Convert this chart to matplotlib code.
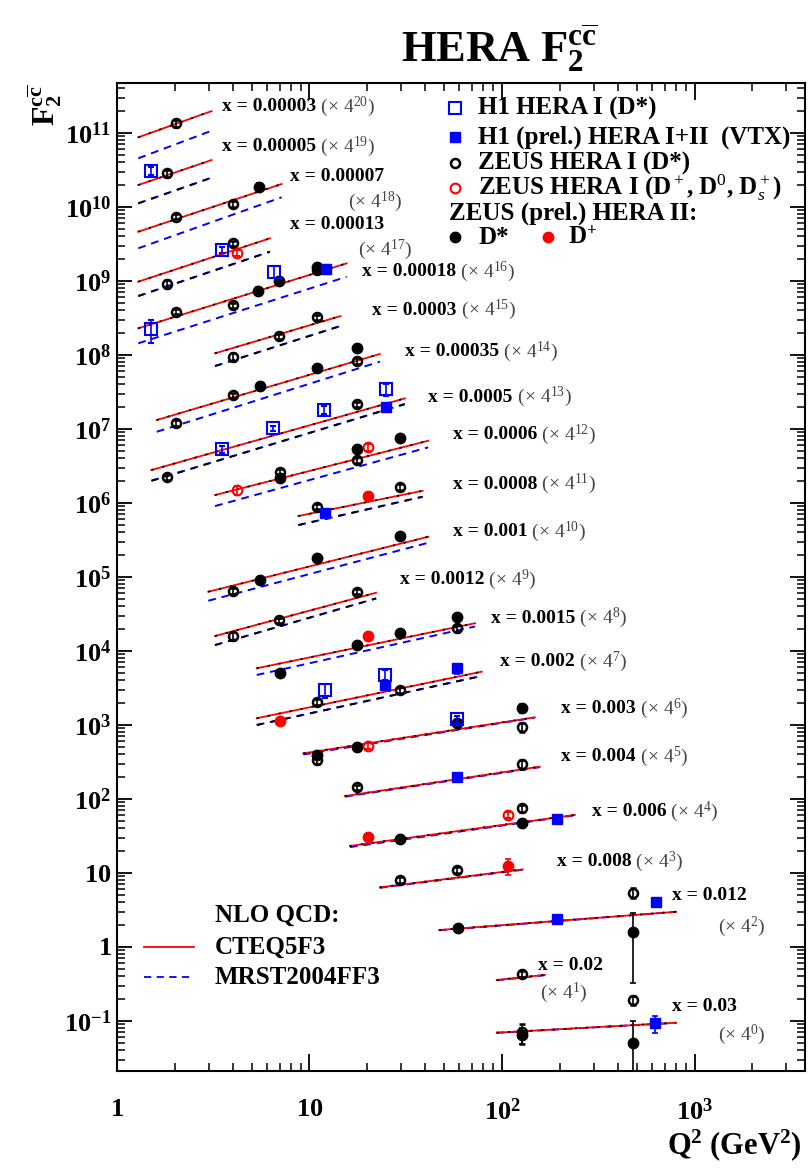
import numpy as np
import matplotlib
matplotlib.use('Agg')
import matplotlib.pyplot as plt
from matplotlib.ticker import LogLocator, FixedLocator, FuncFormatter, NullFormatter

plt.rcParams['font.family'] = 'Liberation Serif'
plt.rcParams['mathtext.fontset'] = 'custom'
plt.rcParams['mathtext.rm'] = 'Liberation Serif'
plt.rcParams['mathtext.it'] = 'Liberation Serif:italic'
plt.rcParams['mathtext.bf'] = 'Liberation Serif:bold'

# x bins, printed labels and the 4^n offsets used to separate them
x_bins = [0.00003, 0.00005, 0.00007, 0.00013, 0.00018, 0.0003, 0.00035, 0.0005, 0.0006, 0.0008,
          0.001, 0.0012, 0.0015, 0.002, 0.003, 0.004, 0.006, 0.008, 0.012, 0.02, 0.03]
x_text = ['0.00003', '0.00005', '0.00007', '0.00013', '0.00018', '0.0003', '0.00035', '0.0005',
          '0.0006', '0.0008', '0.001', '0.0012', '0.0015', '0.002', '0.003', '0.004', '0.006',
          '0.008', '0.012', '0.02', '0.03']
scale_pow = [20, 19, 18, 17, 16, 15, 14, 13, 12, 11, 10, 9, 8, 7, 6, 5, 4, 3, 2, 1, 0]

# NLO QCD predictions (end points of each curve, unscaled F2)
q2_lo = [1.29, 1.29, 1.29, 1.29, 1.29, 3.23, 1.61, 1.51, 3.23, 8.75, 2.98, 3.23, 5.32, 5.32,
         9.29, 15.3, 16.2, 23.2, 47.2, 93.9, 93.9]
q2_hi = [3.10, 3.10, 7.17, 6.23, 15.6, 14.5, 23.2, 31.3, 41.4, 38.7, 41.4, 22.2, 72.4, 78.5,
         148, 157, 239, 128, 802, 167, 802]
cteq_lo = [0.0796, 0.0721, 0.0675, 0.0570, 0.0535, 0.0982, 0.0493, 0.0416, 0.0764, 0.159, 0.0603,
           0.0608, 0.0891, 0.0753, 0.101, 0.107, 0.0906, 0.100, 0.106, 0.0895, 0.0695]
cteq_hi = [0.180, 0.157, 0.298, 0.220, 0.404, 0.313, 0.385, 0.387, 0.414, 0.349, 0.334, 0.234,
           0.362, 0.321, 0.310, 0.267, 0.238, 0.175, 0.187, 0.105, 0.0948]
mrst_lo = [0.0414, 0.0408, 0.0403, 0.0365, 0.0335, 0.0661, 0.0342, 0.0298, 0.0542, 0.120, 0.0456,
           0.0459, 0.0724, 0.0611, 0.0977, 0.105, 0.0875, 0.0986, 0.105, 0.0887, 0.0692]
mrst_hi = [0.0977, 0.0906, 0.197, 0.145, 0.266, 0.230, 0.303, 0.324, 0.337, 0.290, 0.277, 0.196,
           0.327, 0.281, 0.307, 0.263, 0.2355, 0.173, 0.187, 0.104, 0.0944]
low_mix = [False, True, False, True, False, True, False, True, False, True, False, True, False,
           True, False, False, False, False, False, False, False]

# H1 HERA I (D*)
h1_x = [0.00005, 0.00013, 0.00018, 0.00018, 0.0005, 0.0005, 0.0005, 0.0005, 0.002, 0.002, 0.003]
h1_q2 = [1.51, 3.50, 1.51, 6.54, 3.50, 6.49, 11.9, 24.9, 12.0, 24.6, 58.6]
h1_f2 = [0.113, 0.153, 0.0518, 0.311, 0.0793, 0.152, 0.269, 0.512, 0.182, 0.290, 0.292]
h1_err = [0.12, 0.10, 0.35, 0.18, 0.10, 0.08, 0.12, 0.18, 0.22, 0.15, 0.12]

# H1 (prel.) HERA I+II (VTX)
vtx_x = [0.00018, 0.0005, 0.0008, 0.002, 0.002, 0.004, 0.006, 0.012, 0.012, 0.03]
vtx_q2 = [12.2, 24.9, 12.0, 24.6, 58.6, 58.6, 194, 192, 631, 624]
vtx_f2 = [0.335, 0.298, 0.173, 0.212, 0.356, 0.192, 0.208, 0.148, 0.256, 0.0931]
vtx_err = [0.06, 0.06, 0.06, 0.06, 0.15, 0.06, 0.06, 0.06, 0.08, 0.25]

# ZEUS HERA I (D*)
z1_x = [0.00003, 0.00005, 0.00007, 0.00007, 0.00013, 0.00013, 0.00018, 0.00018, 0.00018, 0.0003,
        0.0003, 0.0003, 0.00035, 0.00035, 0.00035, 0.0005, 0.0005, 0.0006, 0.0006, 0.0008,
        0.0008, 0.001, 0.0012, 0.0012, 0.0012, 0.0015, 0.002, 0.002, 0.003, 0.003,
        0.004, 0.004, 0.006, 0.008, 0.008, 0.012, 0.02, 0.03, 0.03]
z1_q2 = [2.02, 1.81, 2.02, 4.02, 1.81, 4.0, 2.02, 4.0, 10.9, 4.0,
         6.97, 10.9, 2.02, 4.02, 17.6, 1.81, 17.7, 7.03, 17.6, 10.9,
         29.5, 4.02, 4.0, 6.97, 17.7, 58.6, 10.9, 29.5, 10.9, 126.6,
         17.7, 126.6, 126.6, 29.5, 58.6, 481, 126.6, 126.6, 481]
z1_f2 = [0.123, 0.104, 0.108, 0.160, 0.0530, 0.188, 0.0895, 0.110, 0.329, 0.0883,
         0.168, 0.301, 0.0453, 0.107, 0.310, 0.0338, 0.321, 0.158, 0.227, 0.212,
         0.395, 0.0622, 0.0608, 0.100, 0.241, 0.310, 0.126, 0.182, 0.0822, 0.228,
         0.141, 0.290, 0.292, 0.126, 0.172, 0.339, 0.108, 0.0708, 0.192]
z1_err = [0.10, 0.10, 0.08, 0.10, 0.12, 0.08, 0.08, 0.08, 0.08, 0.12,
          0.08, 0.08, 0.10, 0.08, 0.10, 0.10, 0.08, 0.08, 0.10, 0.08,
          0.10, 0.10, 0.12, 0.08, 0.08, 0.10, 0.10, 0.10, 0.12, 0.15,
          0.08, 0.15, 0.10, 0.08, 0.08, 0.15, 0.08, 0.30, 0.15]

# ZEUS HERA I (D+, D0, Ds+)
zd_x = [0.00013, 0.0006, 0.0006, 0.003, 0.006]
zd_q2 = [4.19, 4.19, 20.2, 20.2, 108]
zd_f2 = [0.140, 0.0893, 0.337, 0.127, 0.238]
zd_err = [0.10, 0.15, 0.10, 0.10, 0.10]

# ZEUS (prel.) HERA II, D*
z2_x = [0.00007, 0.00018, 0.00018, 0.00018, 0.00035, 0.00035, 0.00035, 0.0006, 0.0006, 0.0006,
        0.001, 0.001, 0.001, 0.0015, 0.0015, 0.0015, 0.0015, 0.003, 0.003, 0.003,
        0.003, 0.006, 0.006, 0.012, 0.012, 0.03, 0.03]
z2_q2 = [5.49, 5.42, 6.97, 10.9, 5.53, 10.9, 17.6, 7.03, 17.6, 29.5,
         5.53, 10.9, 29.5, 7.03, 17.7, 29.5, 58.6, 10.9, 17.7, 58.6,
         126.6, 29.5, 126.6, 59.3, 481, 126.6, 481]
z2_f2 = [0.274, 0.172, 0.235, 0.363, 0.142, 0.252, 0.459, 0.129, 0.317, 0.446,
         0.0867, 0.171, 0.341, 0.0762, 0.184, 0.270, 0.436, 0.0962, 0.124, 0.262,
         0.411, 0.111, 0.187, 0.112, 0.101, 0.0647, 0.0509]
z2_err = [0.12, 0.12, 0.12, 0.10, 0.10, 0.10, 0.12, 0.10, 0.08, 0.08,
          0.10, 0.08, 0.10, 0.10, 0.08, 0.08, 0.10, 0.08, 0.08, 0.08,
          0.15, 0.10, 0.10, 0.10, 0.80, 0.25, 0.99]

# ZEUS (prel.) HERA II, D+
zp_x = [0.0008, 0.0015, 0.002, 0.006, 0.008]
zp_q2 = [20.2, 20.2, 7.03, 20.2, 108]
zp_f2 = [0.296, 0.244, 0.0698, 0.119, 0.195]
zp_err = [0.06, 0.06, 0.06, 0.06, 0.25]

# axis decades shown with labels
x_major = [1, 10, 100, 1000]
y_major = [10.0 ** k for k in range(-1, 12)]

# label placement (axes fraction), second line for the wrapped ones
lab_pos = [(0.152, 0.976), (0.152, 0.9355), (0.2515, 0.905), (0.2515, 0.857), (0.356, 0.809),
           (0.371, 0.770), (0.419, 0.728), (0.4525, 0.682), (0.488, 0.644), (0.488, 0.594),
           (0.488, 0.546), (0.411, 0.497), (0.5436, 0.4585), (0.557, 0.414), (0.646, 0.367),
           (0.646, 0.318), (0.690, 0.2625), (0.639, 0.212), (0.806, 0.178), (0.612, 0.107),
           (0.806, 0.065)]
lab_pos2 = {2: (0.336, 0.880), 3: (0.350, 0.831), 18: (0.874, 0.146), 19: (0.615, 0.079),
            20: (0.874, 0.0364)}

fig = plt.figure(figsize=(8.09, 11.71), dpi=100)
ax = fig.add_axes([0.1446, 0.0854, 0.8505, 0.8437])
ax.set_xscale('log')
ax.set_yscale('log')
ax.set_xlim(1, 3750)
ax.set_ylim(0.0211, 4.74e11)


def scale_of(xv):
    return 4.0 ** scale_pow[x_bins.index(xv)]


# theory curves
for i in range(len(x_bins)):
    s = 4.0 ** scale_pow[i]
    qq = [q2_lo[i], q2_hi[i]]
    ax.plot(qq, [mrst_lo[i] * s, mrst_hi[i] * s], color='#0000ff', lw=1.4,
            dashes=(4, 3), zorder=2)
    if low_mix[i]:
        ax.plot(qq, [mrst_lo[i] * s, mrst_hi[i] * s], color='k', lw=1.4,
                dashes=(3, 4), zorder=2)
    ax.plot(qq, [cteq_lo[i] * s, cteq_hi[i] * s], color='#ff0000', lw=1.3, zorder=2)
    ax.plot(qq, [cteq_lo[i] * s, cteq_hi[i] * s], color='k', lw=1.3,
            dashes=(1.2, 5), zorder=2)


def draw_set(xs, q2, f2, err, **kw):
    sc = np.array([scale_of(v) for v in xs])
    y = np.array(f2) * sc
    e = np.array(err)
    lo = y * np.minimum(e, 0.999)
    hi = y * e
    ax.errorbar(q2, y, yerr=[lo, hi], ls='none', capsize=2.5, elinewidth=1.2,
                capthick=1.2, **kw)


draw_set(z2_x, z2_q2, z2_f2, z2_err, marker='o', ms=7.5, color='k', mfc='k', zorder=4)
draw_set(zp_x, zp_q2, zp_f2, zp_err, marker='o', ms=7.5, color='#ff0000', mfc='#ff0000', zorder=4)
draw_set(z1_x, z1_q2, z1_f2, z1_err, marker='o', ms=6.5, color='k', mfc='none', mew=1.8, zorder=5)
draw_set(zd_x, zd_q2, zd_f2, zd_err, marker='o', ms=7, color='#ff0000', mfc='none', mew=1.5, zorder=5)
draw_set(h1_x, h1_q2, h1_f2, h1_err, marker='s', ms=8, color='#0000ff', mfc='none', mew=1.5, zorder=5)
draw_set(vtx_x, vtx_q2, vtx_f2, vtx_err, marker='s', ms=7, color='#0000ff', mfc='#0000ff', zorder=5)

# bin labels
for i in range(len(x_bins)):
    fx, fy = lab_pos[i]
    t = ax.text(fx, fy, 'x = ' + x_text[i], transform=ax.transAxes, fontsize=14,
                fontweight='bold', va='center', ha='left')
    s_txt = r'(× $4^{%d}$)' % scale_pow[i]
    if i in lab_pos2:
        fx2, fy2 = lab_pos2[i]
        ax.text(fx2, fy2, s_txt, transform=ax.transAxes, fontsize=14, color='#444444',
                va='center', ha='left')
    else:
        ax.annotate(' ' + s_txt, xy=(1, 0.5), xycoords=t, fontsize=14, color='#444444',
                    va='center', ha='left')


def log_label(v, pos):
    k = int(round(np.log10(v)))
    if k == 0:
        return r'$\mathbf{1}$'
    if k == 1:
        return r'$\mathbf{10}$'
    return r'$\mathbf{10^{%d}}$' % k


ax.xaxis.set_major_locator(FixedLocator(x_major))
ax.yaxis.set_major_locator(FixedLocator(y_major))
for axis in (ax.xaxis, ax.yaxis):
    axis.set_minor_locator(LogLocator(base=10, subs=np.arange(2, 10), numticks=40))
    axis.set_major_formatter(FuncFormatter(log_label))
    axis.set_minor_formatter(NullFormatter())

ax.tick_params(axis='y', which='major', direction='in', length=11, width=1.3,
               right=True, labelsize=19, pad=4)
ax.tick_params(axis='y', which='minor', direction='in', length=5.5, width=1.1, right=True)
ax.tick_params(axis='x', which='major', direction='in', length=12, width=1.3,
               top=True, labelsize=19, pad=20)
ax.tick_params(axis='x', which='minor', direction='in', length=6, width=1.1, top=True)
for sp in ax.spines.values():
    sp.set_linewidth(1.5)

# top-right legend
mx, tx = 0.491, 0.525
rows = [0.9747, 0.9453, 0.919, 0.8937, 0.8684, 0.8441]
ax.plot(mx, rows[0], 's', ms=8, mfc='none', mec='#0000ff', mew=1.5, transform=ax.transAxes, clip_on=False)
ax.plot(mx, rows[1], 's', ms=7, color='#0000ff', transform=ax.transAxes, clip_on=False)
ax.plot(mx, rows[2], 'o', ms=6.5, mfc='none', mec='k', mew=1.8, transform=ax.transAxes, clip_on=False)
ax.plot(mx, rows[3], 'o', ms=7, mfc='none', mec='#ff0000', mew=1.5, transform=ax.transAxes, clip_on=False)
ax.plot(mx, rows[5], 'o', ms=7.5, color='k', transform=ax.transAxes, clip_on=False)
ax.plot(0.6265, rows[5], 'o', ms=7.5, color='#ff0000', transform=ax.transAxes, clip_on=False)
leg_txt = ['H1 HERA I (D*)', 'H1 (prel.) HERA I+II  (VTX)', 'ZEUS HERA I (D*)',
           r'ZEUS HERA I (D$^+$, D$^0$, D$_s^+$)']
for r, s in zip(rows[:4], leg_txt):
    ax.text(tx, r, s, transform=ax.transAxes, fontsize=18, fontweight='bold', va='center')
ax.text(0.4826, rows[4], 'ZEUS (prel.) HERA II:', transform=ax.transAxes, fontsize=18,
        fontweight='bold', va='center')
ax.text(tx, rows[5], 'D*', transform=ax.transAxes, fontsize=18, fontweight='bold', va='center')
ax.text(0.6555, rows[5], r'D$^{\mathbf{+}}$', transform=ax.transAxes, fontsize=18,
        fontweight='bold', va='center')

# bottom-left legend
ax.text(0.1424, 0.158, 'NLO QCD:', transform=ax.transAxes, fontsize=18, fontweight='bold', va='center')
ax.plot([0.039, 0.112], [0.1255, 0.1255], color='#ff0000', lw=1.3, transform=ax.transAxes)
ax.plot([0.039, 0.112], [0.0951, 0.0951], color='#0000ff', lw=1.3, dashes=(4, 3), transform=ax.transAxes)
ax.text(0.1424, 0.1255, 'CTEQ5F3', transform=ax.transAxes, fontsize=18, fontweight='bold', va='center')
ax.text(0.1424, 0.0951, 'MRST2004FF3', transform=ax.transAxes, fontsize=18, fontweight='bold', va='center')

# title and axis titles
fig.text(0.617, 0.947, r'$\mathbf{HERA\ F_2^{c\overline{c}}}$', fontsize=32, ha='center', va='baseline')
fig.text(0.0556, 0.910, r'$\mathbf{F_2^{c\overline{c}}}$', fontsize=23, rotation=90,
         ha='center', va='center')
fig.text(0.991, 0.0222, r'$\mathbf{Q^2\ (GeV^2)}$', fontsize=22, ha='right', va='center')

fig.savefig('out.png', dpi=100)
